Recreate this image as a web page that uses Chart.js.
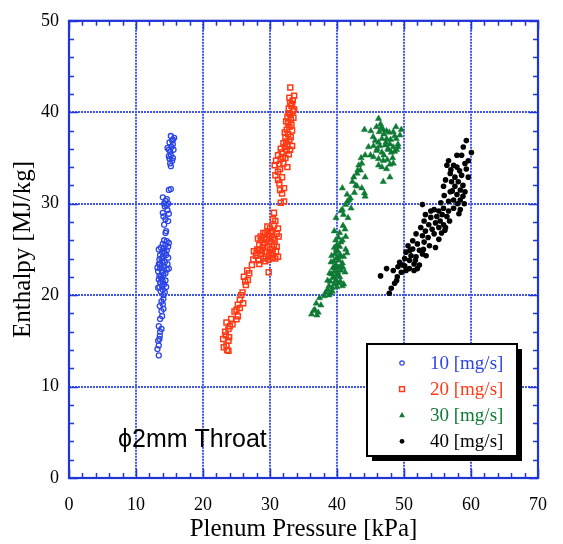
<!DOCTYPE html>
<html>
<head>
<meta charset="utf-8">
<script src="https://cdn.jsdelivr.net/npm/chart.js@4/dist/chart.umd.min.js"></script>
<style>
html, body { margin: 0; padding: 0; background: #fff; }
canvas { display: block; }
</style>
</head>
<body>
<canvas id="grafico" width="563" height="544"></canvas>
<script>
const seriesNames = ['10 [mg/s]', '20 [mg/s]', '30 [mg/s]', '40 [mg/s]'];
const xTicks = [0, 10, 20, 30, 40, 50, 60, 70];
const yTicks = [0, 10, 20, 30, 40, 50];
const xTitle = 'Plenum Pressure [kPa]';
const yTitle = 'Enthalpy [MJ/kg]';
const note = 'ϕ2mm Throat';

// [pressure kPa, enthalpy MJ/kg]
const flow10 = [
  [15.2,37.4],[15.7,37.2],[15.5,37.0],[15.0,36.7],[15.5,36.5],[14.7,36.1],[15.3,36.2],[15.6,35.9],[15.1,35.7],[15.2,35.3],
  [14.9,35.2],[15.5,35.0],[15.4,34.7],[15.1,34.4],[15.2,34.1],[15.4,36.9],[14.9,35.9],[15.0,34.9],
  [14.9,31.5],[15.2,31.6],
  [14.0,30.7],[14.4,30.3],[14.8,30.0],[14.3,29.7],[14.6,29.8],[14.7,29.3],[14.0,29.0],[14.1,28.6],[14.4,28.3],[14.8,28.1],
  [14.2,27.7],[14.5,27.0],[14.4,26.8],[14.6,30.5],[14.2,30.0],[14.9,28.9],
  [14.2,26.0],[14.6,25.9],[14.9,25.7],[14.4,25.5],[14.8,25.3],[14.1,25.1],[13.7,25.2],[14.6,24.9],[13.9,24.7],[14.3,24.6],
  [14.5,24.4],[13.6,24.4],[14.0,24.2],[14.8,24.1],[13.5,23.9],[13.9,23.7],[14.3,23.6],[13.4,23.4],[13.8,23.2],[14.2,23.1],
  [13.6,22.9],[14.6,22.8],[13.3,22.6],[13.9,22.5],[14.1,22.2],[13.5,22.1],[13.8,21.8],[14.4,21.6],[13.6,21.4],[14.2,21.2],
  [13.9,21.0],[13.3,20.8],[14.0,20.6],[13.7,20.4],[14.3,20.3],[14.1,20.0],
  [13.4,25.0],[14.0,25.6],[14.7,23.4],[13.2,23.0],[14.4,22.4],[13.7,22.0],[14.0,21.5],[13.5,20.9],[14.5,20.9],[13.8,24.0],
  [14.2,24.8],[13.6,23.4],[14.9,22.9],[13.4,21.7],[14.1,19.6],
  [13.8,19.3],[14.0,19.0],[13.55,18.8],[13.8,18.25],[14.1,18.5],[13.9,17.7],[13.6,17.4],
  [13.4,16.6],[13.8,16.3],[13.6,16.0],[13.55,15.55],[13.3,15.0],[13.5,15.2],[13.4,14.5],[13.2,14.1],[13.4,13.4]
];

const flow20 = [
  [23.8,13.9],[23.5,14.5],[23.1,14.3],[23.8,15.0],[23.0,15.2],[23.4,15.6],[23.9,15.4],[23.3,16.0],[23.8,16.3],[23.5,17.0],
  [24.0,16.6],[24.4,16.8],[25.0,17.35],[25.2,17.7],[24.7,18.2],[25.0,18.4],[25.2,18.96],[25.5,19.5],[26.0,19.1],[25.7,20.0],
  [25.9,20.3],[26.4,21.1],[26.7,21.65],[26.1,22.0],[26.9,22.4],[26.6,22.7],[29.8,22.5],[28.4,23.4],[27.3,23.3],
  [23.6,14.0],[24.2,17.4],[25.5,18.6],[26.3,21.5],
  [27.5,23.9],[27.9,24.3],[28.3,23.8],[27.6,24.8],[28.1,25.0],[28.6,24.5],[29.0,24.0],[29.4,24.2],[29.8,23.9],[30.3,24.1],
  [30.8,24.0],[31.2,24.2],[28.4,25.5],[28.9,25.2],[29.2,25.7],[29.6,25.3],[30.0,25.0],[30.4,24.6],[30.9,24.8],[28.7,26.0],
  [29.1,26.3],[29.5,26.1],[29.9,26.4],[30.2,25.8],[30.6,25.5],[29.3,26.8],[29.7,27.0],[30.1,26.9],[29.6,27.5],[30.0,27.3],
  [28.2,26.2],[31.0,25.3],[29.4,24.7],[28.8,24.8],[30.5,26.2],[31.3,26.4],[31.2,27.3],[30.35,27.0],[30.6,27.6],[30.8,28.1],
  [30.45,28.3],[30.6,29.0],
  [28.5,24.9],[29.0,25.5],[29.3,23.7],[29.9,24.5],[30.3,25.3],[30.7,26.0],[29.0,26.8],[28.0,24.6],[29.6,26.6],[30.2,24.4],
  [28.6,26.4],[31.0,26.7],
  [31.6,30.1],[32.1,30.25],[31.8,31.1],[32.1,31.7],[31.5,31.5],[31.4,32.2],[31.2,32.6],[30.8,33.1],[31.8,32.9],[31.2,33.5],
  [31.5,33.8],[30.7,34.2],[30.9,34.7],[31.6,34.9],[32.0,34.4],[32.3,35.0],[31.2,35.3],[31.8,35.6],[32.8,35.4],[32.5,35.8],
  [31.6,36.0],[32.2,36.2],[32.6,36.5],[33.3,36.3],[32.9,36.9],[32.3,37.2],[32.7,37.6],[33.1,37.3],[32.2,37.8],[32.5,38.1],
  [32.9,38.4],[33.3,38.0],[32.7,38.8],[32.4,39.0],[33.1,39.2],[33.5,39.4],[32.6,39.5],[33.0,39.8],[33.4,40.1],[32.8,40.4],
  [33.2,40.7],[33.6,40.3],[33.0,41.0],[33.4,41.3],[32.9,41.6],[33.03,42.7],
  [32.4,36.8],[32.0,36.6],[33.2,38.6],[32.8,39.9],[33.3,40.9],[33.6,41.8],[31.9,35.1],[31.4,34.3],[32.6,34.0],[33.0,35.9]
];

const flow30 = [
  [36.2,17.9],[36.5,18.3],[36.7,18.4],[36.9,19.1],[37.2,18.1],[37.0,17.8],[37.4,19.7],[38.1,19.9],[37.6,18.9],
  [38.3,20.3],[38.6,20.6],[39.0,20.2],[38.8,21.0],[39.3,20.8],[39.6,21.2],[39.0,21.5],[39.4,21.9],[39.8,21.6],[40.2,21.3],
  [40.8,21.0],[39.2,22.3],[38.9,22.4],[39.6,22.6],[40.0,22.2],[40.4,22.0],[41.0,21.2],[39.4,23.0],[39.8,23.3],[40.2,23.0],
  [40.6,22.7],[40.9,23.0],[39.1,23.6],[39.5,23.7],[39.9,24.0],[40.3,23.8],[40.8,23.5],[39.7,24.5],[40.1,24.8],[40.5,24.4],
  [41.0,24.2],[41.5,24.6],[39.6,25.2],[40.0,25.5],[40.4,25.3],[41.3,25.0],[39.8,26.0],[40.2,26.3],[40.8,26.0],
  [39.3,20.4],[38.6,21.6],[39.5,22.0],[40.1,22.5],[39.2,24.3],[40.6,23.2],[39.9,25.0],[40.6,25.8],[40.0,20.9],[39.7,23.0],
  [40.3,24.2],[38.8,20.0],[41.2,22.5],[40.5,21.5],
  [39.6,27.0],[40.4,26.8],[41.3,26.4],[39.85,28.45],[40.6,29.2],[40.96,28.8],[40.8,29.35],[41.3,29.9],[41.55,30.25],
  [41.8,30.4],[42.0,30.6],[41.65,28.45],[40.9,27.6],[41.2,27.2],[42.1,29.5],
  [40.8,31.7],[42.3,32.4],[42.8,32.0],[42.5,32.9],[43.0,33.3],[43.5,33.65],[43.25,34.2],[43.7,34.4],[44.1,31.15],[44.2,30.8],
  [43.7,31.7],[44.2,32.9],[43.1,33.65],[42.6,31.2],[41.5,31.0],[43.6,35.0],[43.0,31.9],
  [46.2,39.3],[46.5,38.7],[45.9,38.4],[46.9,38.1],[46.3,37.85],[47.4,37.95],[48.4,37.85],[48.6,37.4],[49.6,38.1],[44.1,38.1],
  [45.05,37.95],[45.7,36.9],[46.2,36.7],[46.7,37.1],[45.45,36.3],[44.7,36.2],[47.4,37.1],[47.9,36.5],[48.4,36.2],[48.85,37.1],
  [49.1,36.5],[49.1,36.2],[47.6,36.0],[48.1,35.6],[48.6,35.7],[45.9,35.8],[46.7,35.6],[45.0,35.3],[45.45,35.1],[46.2,34.9],
  [46.9,34.7],[46.2,34.2],[46.7,34.0],[47.4,33.8],[47.9,34.3],[48.4,34.4],[47.9,32.9],[46.9,32.4],[44.2,35.3],[47.2,36.4],
  [47.7,35.9],[48.0,37.0],[47.0,35.3],[46.0,36.0],[47.5,34.8],
  [46.6,38.3],[47.0,37.6],[48.8,38.4],[49.4,37.5],[47.3,36.7],[46.4,36.3],[48.3,35.0],[47.8,37.8],[45.4,37.3],[48.9,35.9]
];

const flow40 = [
  [59.3,36.9],[58.85,36.2],[60.06,35.6],[58.6,35.3],[59.6,34.7],
  [56.65,34.7],[57.4,34.2],[56.4,34.2],[57.9,34.0],[59.1,34.4],[59.3,33.8],[56.9,33.3],[57.6,32.9],[58.6,33.1],[59.6,32.9],
  [56.2,32.6],[57.1,32.4],[58.1,32.4],[58.8,32.0],[55.9,31.9],[57.6,31.9],[58.4,31.5],[59.1,31.3],[56.9,31.3],[57.9,31.0],
  [58.8,30.8],[57.4,30.4],[58.4,30.4],[56.65,30.25],[52.75,29.9],[54.5,29.35],[55.2,29.2],[55.9,29.5],[56.65,29.2],[57.4,29.5],
  [58.4,29.35],[53.2,28.8],[54.0,28.5],[54.9,28.6],[55.7,28.8],[56.4,28.6],[53.0,28.1],[53.7,27.7],[54.7,27.9],[55.4,28.1],
  [55.9,27.7],[55.2,27.4],[56.2,27.4],[52.5,27.4],[53.2,27.0],[51.8,26.7],[52.75,26.5],[54.5,26.7],[55.2,26.1],[51.3,25.95],
  [52.0,25.6],[53.0,25.8],[54.7,25.2],[50.6,25.4],[51.3,25.05],[52.3,24.9],[50.3,24.7],[51.05,24.3],[51.8,24.2],[52.75,24.5],
  [50.1,24.0],[50.8,23.8],[51.5,23.4],[52.3,23.3],[49.35,23.6],[49.8,23.3],[50.8,22.9],[51.5,22.7],[49.1,23.1],[48.4,22.7],
  [47.4,22.9],[46.5,22.1],[48.6,21.3],[48.1,20.75],[47.8,20.2],[50.3,22.7],[49.6,22.5],
  [57.0,33.7],[58.3,33.6],[57.2,31.4],[58.0,30.0],[56.0,30.9],[59.0,30.0],[55.5,30.1],[56.8,28.1],[54.2,27.2],[53.6,26.3],
  [55.6,26.8],[52.9,25.0],[51.7,23.8],[53.3,24.3],[50.1,23.2],[49.0,22.0],[54.0,29.2],[57.9,35.3],[58.2,28.9],[56.1,27.1],
  [53.8,25.4],[50.9,24.9],[52.0,22.9],[48.9,21.6]
];

const blueFrame = '#1f35d8';
const gridBlue = '#4256e6';
const colours = ['#2b45e6', '#ff3a14', '#0f7a34', '#000000'];
const serif = 'Liberation Serif';

function pts(list) {
  return list.map(([x, y]) => ({ x, y }));
}

function marker(ctx, style, x, y, colour) {
  ctx.save();
  ctx.strokeStyle = colour;
  ctx.fillStyle = colour;
  ctx.beginPath();
  if (style === 'circle-open') {
    ctx.lineWidth = 1.2;
    ctx.arc(x, y, 2.2, 0, Math.PI * 2);
    ctx.stroke();
  } else if (style === 'rect') {
    ctx.lineWidth = 1.5;
    ctx.strokeRect(x - 2.4, y - 2.4, 4.8, 4.8);
  } else if (style === 'triangle') {
    ctx.moveTo(x, y - 3.2);
    ctx.lineTo(x + 2.9, y + 2);
    ctx.lineTo(x - 2.9, y + 2);
    ctx.closePath();
    ctx.fill();
  } else {
    ctx.arc(x, y, 2.4, 0, Math.PI * 2);
    ctx.fill();
  }
  ctx.restore();
}

const legendStyles = ['circle-open', 'rect', 'triangle', 'circle'];

const framePlugin = {
  id: 'frame',
  afterDraw(chart) {
    const { ctx, chartArea: a, scales: { x, y } } = chart;
    ctx.save();
    ctx.strokeStyle = blueFrame;
    ctx.lineWidth = 1.5;
    ctx.beginPath();
    for (let v = 0; v <= 70; v += 2) {
      const len = v % 10 === 0 ? 9 : 5;
      const px = Math.round(x.getPixelForValue(v)) + 0.5;
      ctx.moveTo(px, a.bottom); ctx.lineTo(px, a.bottom - len);
      ctx.moveTo(px, a.top); ctx.lineTo(px, a.top + len);
    }
    for (let v = 0; v <= 50; v += 2) {
      const len = v % 10 === 0 ? 9 : 5;
      const py = Math.round(y.getPixelForValue(v)) + 0.5;
      ctx.moveTo(a.left, py); ctx.lineTo(a.left + len, py);
      ctx.moveTo(a.right, py); ctx.lineTo(a.right - len, py);
    }
    ctx.stroke();
    ctx.lineWidth = 2.2;
    ctx.strokeRect(a.left, a.top, a.right - a.left, a.bottom - a.top);

    // legend box
    const bx = 367, by = 344, bw = 150, bh = 112;
    ctx.fillStyle = '#000';
    ctx.fillRect(bx + 5, by + 5, bw, bh);
    ctx.fillStyle = '#fff';
    ctx.fillRect(bx, by, bw, bh);
    ctx.strokeStyle = '#000';
    ctx.lineWidth = 2;
    ctx.strokeRect(bx, by, bw, bh);
    ctx.font = '19px "' + serif + '"';
    ctx.textBaseline = 'alphabetic';
    ctx.textAlign = 'left';
    seriesNames.forEach((name, i) => {
      const base = 368.5 + i * 26.1;
      marker(ctx, legendStyles[i], 402, base - 5.5, colours[i]);
      ctx.fillStyle = colours[i];
      ctx.fillText(name, 430, base);
    });

    ctx.fillStyle = '#000';
    ctx.font = '25px "Liberation Sans"';
    ctx.fillText(note, 118, 447);
    ctx.restore();
  }
};

const ctx = document.getElementById('grafico').getContext('2d');
new Chart(ctx, {
  type: 'scatter',
  data: {
    datasets: [
      { label: seriesNames[0], data: pts(flow10), pointStyle: 'circle', pointRadius: 2.5, pointBorderWidth: 1.3,
        borderColor: colours[0], backgroundColor: 'rgba(0,0,0,0)' },
      { label: seriesNames[1], data: pts(flow20), pointStyle: 'rect', pointRadius: 3.5, pointBorderWidth: 1.5,
        borderColor: colours[1], backgroundColor: 'rgba(0,0,0,0)' },
      { label: seriesNames[2], data: pts(flow30), pointStyle: 'triangle', pointRadius: 3.6, pointBorderWidth: 0.5,
        borderColor: colours[2], backgroundColor: colours[2] },
      { label: seriesNames[3], data: pts(flow40), pointStyle: 'circle', pointRadius: 2.8, pointBorderWidth: 0,
        borderColor: colours[3], backgroundColor: colours[3] }
    ]
  },
  options: {
    responsive: false,
    animation: false,
    devicePixelRatio: 1,
    layout: { padding: { top: 13, right: 15, left: 0, bottom: 0 } },
    plugins: { legend: { display: false }, tooltip: { enabled: false } },
    scales: {
      x: {
        type: 'linear', min: 0, max: 70,
        afterFit: s => { s.height = 66; },
        afterBuildTicks: s => { s.ticks = xTicks.map(v => ({ value: v })); },
        ticks: { font: { family: serif, size: 18 }, color: '#000', padding: 16, maxRotation: 0 },
        grid: { color: gridBlue, lineWidth: 2, drawTicks: false },
        border: { display: false, dash: [2, 1] },
        title: { display: true, text: xTitle, font: { family: serif, size: 25 }, color: '#000', padding: 0 }
      },
      y: {
        type: 'linear', min: 0, max: 50,
        afterFit: s => { s.width = 69; },
        afterBuildTicks: s => { s.ticks = yTicks.map(v => ({ value: v })); },
        ticks: { font: { family: serif, size: 18 }, color: '#000', padding: 10 },
        grid: { color: gridBlue, lineWidth: 2, drawTicks: false },
        border: { display: false, dash: [2, 1] },
        title: { display: true, text: yTitle, font: { family: serif, size: 25 }, color: '#000', padding: { top: 8, bottom: 0 } }
      }
    }
  },
  plugins: [framePlugin]
});
</script>
</body>
</html>
